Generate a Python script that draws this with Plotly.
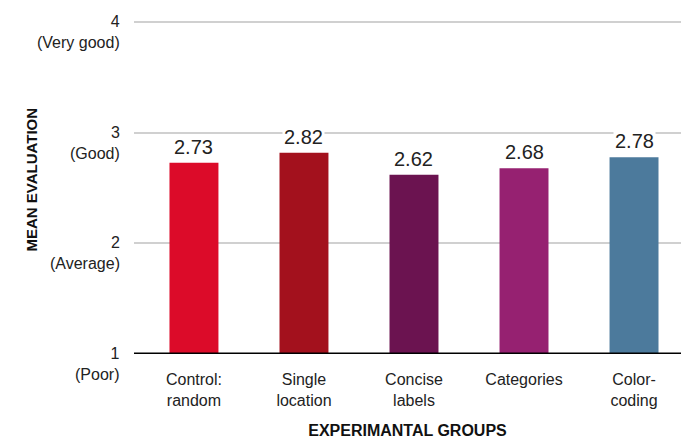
import plotly.graph_objects as go

groups = ["Control:<br>random", "Single<br>location", "Concise<br>labels", "Categories", "Color-<br>coding"]
means = [2.73, 2.82, 2.62, 2.68, 2.78]
colors = ["#DC0B29", "#A3111D", "#6B1350", "#962171", "#4C7A9C"]
y_ticks = [1, 2, 3, 4]
y_tick_labels = ["1<br>(Poor)", "2<br>(Average)", "3<br>(Good)", "4<br>(Very good)"]

FONT = "Liberation Sans, Arial, sans-serif"
xs = list(range(len(groups)))

fig = go.Figure()
fig.add_trace(go.Bar(x=xs, y=means, marker=dict(color=colors, line=dict(width=0)),
                     width=0.445, hoverinfo="skip"))

# value labels with white background
for x, v in zip(xs, means):
    fig.add_annotation(x=x, y=v, xref="x", yref="y", text=f"{v:.2f}", showarrow=False,
                       yanchor="bottom", yshift=3, bgcolor="white",
                       font=dict(family=FONT, size=20, color="#222222"), borderpad=1)

# y tick labels
for t, lab in zip(y_ticks, y_tick_labels):
    fig.add_annotation(x=0, y=t, xref="paper", yref="y", text=lab, showarrow=False,
                       xanchor="right", yanchor="top", yshift=11, xshift=-12, align="right",
                       font=dict(family=FONT, size=16, color="#222222"))

# baseline
fig.add_shape(type="line", xref="paper", yref="y", x0=0, x1=1, y0=1, y1=1,
              line=dict(color="black", width=3))

fig.add_annotation(x=(20 - 134) / 547, y=(354 - 180) / 334, xref="paper", yref="paper",
                   text="<b>MEAN EVALUATION</b>",
                   showarrow=False, textangle=-90, font=dict(family=FONT, size=15, color="#111111"))

fig.update_layout(
    width=681, height=439,
    margin=dict(l=134, r=0, t=20, b=85),
    paper_bgcolor="white", plot_bgcolor="white",
    showlegend=False,
    xaxis=dict(range=[-0.545, 4.427], tickvals=xs, ticktext=groups, showgrid=False,
               zeroline=False, showline=False, ticks="", ticklabelstandoff=14,
               tickfont=dict(family=FONT, size=16, color="#222222"),
               title=dict(text="<b>EXPERIMANTAL GROUPS</b>", standoff=20,
                          font=dict(family=FONT, size=16, color="#111111"))),
    yaxis=dict(range=[1, 4.02], tickvals=y_ticks, showticklabels=False, showgrid=True,
               gridcolor="#d0d0d0", gridwidth=1.5, zeroline=False, showline=False, ticks=""),
)

fig.write_html("out.html")
